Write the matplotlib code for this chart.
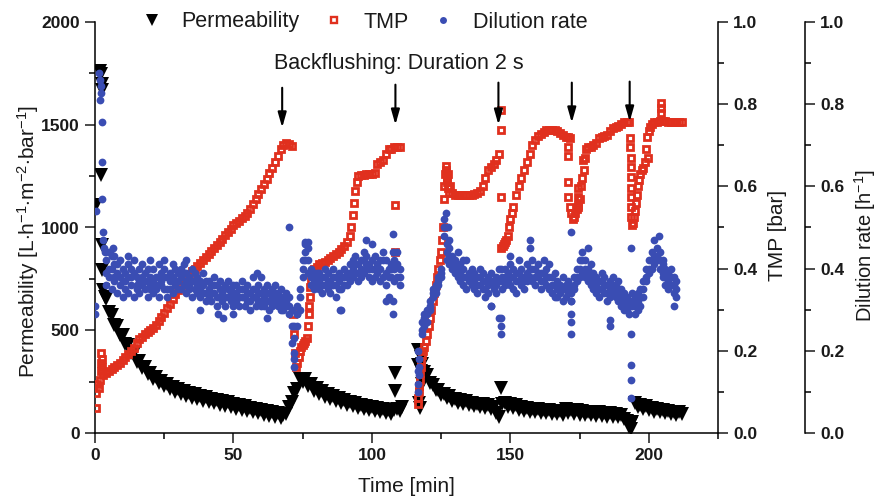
import matplotlib.pyplot as plt
from matplotlib.lines import Line2D

plt.rcParams['font.family'] = ['Liberation Sans', 'DejaVu Sans']
plt.rcParams['mathtext.fontset'] = 'custom'
plt.rcParams['mathtext.rm'] = 'Liberation Sans'
plt.rcParams['mathtext.it'] = 'Liberation Sans:italic'
plt.rcParams['mathtext.bf'] = 'Liberation Sans:bold'

# ---- permeability [L/(h m2 bar)] ----
perm_t1 = [4, 5, 6, 7, 8, 9, 10, 11, 12, 13,
           14, 15, 16, 17, 18, 19, 20, 21, 22, 23,
           24, 25, 26, 27, 28, 29, 30, 31, 32, 33,
           34, 35, 36, 37, 38, 39, 40, 41, 42, 43,
           44, 45, 46, 47, 48, 49, 50, 51, 52, 53,
           54, 55, 56, 57, 58, 59, 60, 61, 62, 63,
           64, 65, 66, 67, 68, 69, 70, 71, 72, 73,
           74, 75, 76, 77, 78, 79, 80, 81, 82, 83,
           84, 85, 86, 87, 88, 89, 90, 91, 92, 93,
           94, 95, 96, 97, 98, 99, 100, 101, 102, 103,
           104, 105, 106, 107, 108, 109, 110, 111]
perm_v1 = [650, 590, 575, 525, 520, 475, 475, 435, 430, 390,
           390, 345, 350, 315, 320, 285, 292, 262, 272, 243,
           255, 227, 238, 212, 226, 200, 215, 190, 205, 180,
           196, 172, 188, 164, 180, 157, 173, 150, 167, 144,
           161, 138, 155, 132, 149, 126, 140, 118, 135, 112,
           130, 107, 124, 101, 118, 96, 113, 90, 107, 84,
           101, 78, 95, 72, 88, 92, 125, 150, 195, 215,
           262, 250, 265, 228, 240, 206, 220, 190, 203, 176,
           190, 165, 180, 155, 170, 145, 160, 137, 152, 130,
           145, 123, 138, 117, 132, 112, 127, 106, 122, 101,
           118, 96, 114, 92, 110, 118, 108, 125]
perm_t2 = [118, 119, 120, 121, 122, 123, 124, 125, 126, 127,
           128, 129, 130, 131, 132, 133, 134, 135, 136, 137,
           138, 139, 140, 141, 142, 143, 144, 145, 146, 147,
           148, 149, 150, 151, 152, 153, 154, 155, 156, 157,
           158, 159, 160, 161, 162, 163, 164, 165, 166, 167,
           168, 169, 170, 171, 172, 173, 174, 175, 176, 177,
           178, 179, 180, 181, 182, 183, 184, 185, 186, 187,
           188, 189, 190, 191, 192, 193, 194, 195, 196, 197,
           198, 199, 200, 201, 202, 203, 204, 205, 206, 207,
           208, 209, 210, 211, 212]
perm_v2 = [335, 295, 280, 245, 235, 208, 210, 186, 192, 170,
           178, 157, 167, 148, 160, 141, 154, 135, 148, 130,
           143, 126, 139, 122, 135, 118, 125, 95, 80, 140,
           148, 128, 140, 121, 134, 114, 128, 108, 123, 104,
           119, 100, 116, 98, 113, 96, 111, 94, 109, 92,
           107, 90, 118, 98, 114, 94, 110, 90, 107, 88,
           104, 86, 102, 84, 100, 82, 98, 80, 96, 78,
           94, 76, 90, 70, 60, 30, 55, 145, 128, 138,
           118, 130, 110, 124, 104, 118, 100, 113, 96, 108,
           92, 104, 90, 100, 92]
perm_xt = [0.4, 1.8, 2.2, 2.6, 2.4, 2.2, 2.4, 2.6, 3.0, 3.5, 108.5, 108.5,
           116.5, 116.7, 117.0, 117.3, 117.6, 117.8, 118.0, 146.8, 193.5, 193.6]
perm_xv = [1110, 1760, 1745, 1700, 1670, 1257, 915, 794, 697, 660, 292, 205,
           404, 331, 146, 120, 370, 300, 240, 219, 20, 45]

# ---- TMP [bar] ----
tmp_t1 = [3, 4, 5, 6, 7, 8, 9, 10, 11, 12,
          13, 14, 15, 16, 17, 18, 19, 20, 21, 22,
          23, 24, 25, 26, 27, 28, 29, 30, 31, 32,
          33, 34, 35, 36, 37, 38, 39, 40, 41, 42,
          43, 44, 45, 46, 47, 48, 49, 50, 51, 52,
          53, 54, 55, 56, 57, 58, 59, 60, 61, 62,
          63, 64, 65, 66, 67, 68, 69, 70, 71]
tmp_v1 = [.140, .145, .150, .155, .160, .165, .170, .178, .185, .192,
          .200, .208, .218, .228, .234, .240, .245, .250, .256, .263,
          .273, .283, .293, .303, .313, .325, .337, .348, .358, .368,
          .378, .386, .393, .400, .407, .414, .421, .428, .435, .442,
          .449, .457, .465, .473, .481, .489, .497, .505, .510, .516,
          .522, .528, .535, .545, .557, .569, .582, .594, .606, .619,
          .632, .645, .660, .675, .690, .700, .706, .704, .698]
tmp_t2 = [71.5, 71.8, 72.1, 72.5, 73.0, 73.5, 74.0, 74.5, 75.0, 75.5,
          76.0, 76.5, 77.0, 77.2, 77.4, 77.6, 77.8, 78.0, 78.5, 79,
          80, 81, 82, 83, 84, 85, 86, 87, 88, 89,
          90, 91, 92, 92.5, 93, 93.5, 94, 94.5, 95, 96,
          97, 98, 99, 100, 101, 102, 103, 104, 105, 106,
          107, 108, 109, 110]
tmp_v2 = [0.29, 0.24, 0.195, 0.16, 0.17, 0.185, 0.20, 0.21, 0.215, 0.22,
          0.225, 0.23, 0.26, 0.29, 0.31, 0.33, 0.355, 0.37, 0.39, 0.40,
          0.405, 0.41, 0.413, 0.417, 0.42, 0.425, 0.43, 0.435, 0.44, 0.447,
          0.455, 0.465, 0.48, 0.50, 0.53, 0.56, 0.59, 0.61, 0.625, 0.628,
          0.628, 0.63, 0.63, 0.63, 0.632, 0.655, 0.66, 0.665, 0.68, 0.69,
          0.692, 0.695, 0.695, 0.696]
tmp_t3 = [116.5, 116.7, 116.9, 117.1, 117.3, 117.5, 117.7, 117.9, 118.2, 118.6,
          119, 119.5, 120, 120.5, 121, 121.5, 122, 122.5, 123, 123.5,
          124, 124.5, 125, 125.4, 125.8, 126.0, 126.2, 126.4, 126.6, 127,
          127.5, 128, 129, 130, 131, 132, 133, 134, 135, 136,
          137, 138, 139, 140, 141, 142, 143, 144, 145, 146]
tmp_v3 = [0.07, 0.085, 0.10, 0.115, 0.13, 0.145, 0.16, 0.175, 0.19, 0.20,
          0.21, 0.225, 0.24, 0.26, 0.28, 0.30, 0.32, 0.34, 0.36, 0.38,
          0.40, 0.42, 0.44, 0.47, 0.50, 0.57, 0.60, 0.63, 0.65, 0.62,
          0.595, 0.585, 0.583, 0.58, 0.58, 0.58, 0.578, 0.578, 0.58, 0.58,
          0.582, 0.585, 0.59, 0.60, 0.62, 0.64, 0.648, 0.655, 0.665, 0.68]
tmp_t4 = [146.8, 147.2, 147.6, 148, 148.5, 149, 149.5, 150, 150.5, 151,
          152, 153, 154, 155, 156, 157, 158, 159, 160, 161,
          162, 163, 164, 165, 166, 167, 168, 169, 170, 171, 171.5]
tmp_v4 = [0.45, 0.455, 0.46, 0.465, 0.47, 0.48, 0.50, 0.52, 0.535, 0.55,
          0.58, 0.60, 0.62, 0.64, 0.66, 0.68, 0.70, 0.713, 0.722, 0.728,
          0.733, 0.737, 0.738, 0.738, 0.737, 0.735, 0.73, 0.725, 0.72, 0.72, 0.718]
tmp_t5 = [172.0, 172.5, 173.0, 173.5, 174.0, 174.5, 175.0, 175.5, 176.0, 176.5,
          177.0, 177.5, 178, 179, 180, 181, 182, 183, 184, 185,
          186, 187, 188, 189, 190, 191, 192, 193]
tmp_v5 = [0.535, 0.52, 0.525, 0.535, 0.545, 0.55, 0.57, 0.60, 0.62, 0.64,
          0.67, 0.69, 0.695, 0.697, 0.70, 0.705, 0.718, 0.72, 0.722, 0.725,
          0.735, 0.742, 0.745, 0.748, 0.752, 0.757, 0.757, 0.757]
tmp_t6 = [194.2, 194.6, 195.0, 195.4, 195.8, 196.2, 196.6, 197.0, 197.5, 198.0,
          198.5, 199.0, 199.5, 200.0, 200.5, 201, 202, 203, 204, 205,
          206, 207, 208, 209, 210, 211, 212]
tmp_v6 = [0.51, 0.525, 0.54, 0.56, 0.58, 0.60, 0.615, 0.63, 0.64, 0.645,
          0.66, 0.69, 0.72, 0.735, 0.745, 0.752, 0.757, 0.757, 0.76, 0.76,
          0.758, 0.757, 0.757, 0.757, 0.757, 0.757, 0.756]
tmp_xt = [0.4, 0.4, 0.6, 1.5, 1.8, 2.0, 2.2, 2.2, 2.4, 2.6, 108.5, 108.5,
          126.8, 127.2, 127.6, 128.2, 146.5, 146.5, 146.5,
          170.8, 170.8, 170.8, 170.8, 171.5, 174.3, 174.3, 174.3, 176.2,
          193.3, 193.3, 193.4, 193.4, 193.5, 193.5, 193.6, 193.6, 193.7, 193.8,
          199.6, 204.3, 204.3, 204.3]
tmp_xv = [0.06, 0.097, 0.12, 0.11, 0.13, 0.15, 0.17, 0.195, 0.18, 0.16, 0.555, 0.44,
          0.64, 0.61, 0.63, 0.60, 0.786, 0.737, 0.574,
          0.696, 0.675, 0.61, 0.575, 0.55, 0.596, 0.574, 0.555, 0.664,
          0.718, 0.696, 0.67, 0.647, 0.623, 0.596, 0.574, 0.55, 0.526, 0.506,
          0.67, 0.803, 0.79, 0.778]

# ---- dilution rate [1/h], three readings per minute ----
dil_t1 = [4, 5, 6, 7, 8, 9, 10,
          11, 12, 13, 14, 15, 16, 17, 18, 19, 20,
          21, 22, 23, 24, 25, 26, 27, 28, 29, 30,
          31, 32, 33, 34, 35, 36, 37, 38, 39, 40,
          41, 42, 43, 44, 45, 46, 47, 48, 49, 50,
          51, 52, 53, 54, 55, 56, 57, 58, 59, 60,
          61, 62, 63, 64, 65, 66, 67, 68, 69, 70,
          71, 72, 73, 74, 75, 76, 77, 78, 79, 80,
          81, 82, 83, 84, 85, 86, 87, 88, 89, 90,
          91, 92, 93, 94, 95, 96, 97, 98, 99, 100,
          101, 102, 103, 104, 105, 106, 107, 108, 109, 110]
dil_a1 = [.42, .44, .40, .41, .39, .42, .40,
          .39, .41, .40, .42, .38, .40, .41, .39, .40, .38,
          .40, .38, .41, .39, .40, .38, .39, .41, .40, .39,
          .40, .41, .39, .38, .40, .39, .38, .37, .39, .37,
          .37, .36, .38, .36, .37, .35, .36, .37, .35, .36,
          .36, .35, .37, .35, .36, .34, .38, .35, .36, .34,
          .35, .36, .34, .35, .36, .34, .35, .33, .34, .33,
          .30, .26, .29, .33, .40, .44, .45, .40, .39, .38,
          .39, .38, .40, .39, .37, .40, .38, .39, .38, .40,
          .39, .41, .42, .43, .41, .42, .44, .43, .41, .42,
          .43, .41, .42, .44, .42, .40, .41, .42, .44, .40]
dil_b1 = [.36, .38, .35, .37, .34, .36, .33,
          .35, .34, .36, .33, .35, .34, .36, .35, .33, .35,
          .34, .35, .33, .36, .35, .33, .35, .34, .36, .35,
          .35, .36, .34, .35, .33, .35, .34, .33, .34, .32,
          .33, .32, .34, .31, .33, .32, .31, .33, .32, .31,
          .32, .31, .33, .31, .32, .30, .33, .31, .32, .31,
          .31, .32, .30, .31, .32, .31, .30, .30, .31, .29,
          .22, .18, .26, .30, .38, .42, .39, .36, .35, .36,
          .35, .34, .36, .35, .34, .36, .33, .35, .30, .36,
          .36, .37, .38, .39, .37, .38, .39, .40, .38, .37,
          .38, .39, .37, .38, .36, .33, .38, .37, .38, .36]
dil_c1 = [.39, .40, .43, .38, .41, .38, .37,
          .37, .38, .38, .39, .36, .37, .38, .37, .37, .36,
          .37, .36, .38, .37, .38, .35, .37, .38, .37, .37,
          .38, .39, .37, .36, .37, .37, .36, .35, .36, .34,
          .35, .34, .36, .33, .35, .34, .33, .35, .34, .33,
          .34, .33, .35, .33, .34, .32, .35, .33, .34, .32,
          .33, .34, .32, .33, .34, .33, .32, .31, .32, .31,
          .26, .23, .31, .35, .42, .46, .42, .38, .37, .39,
          .37, .36, .38, .37, .36, .38, .36, .37, .35, .38,
          .38, .39, .40, .41, .39, .40, .42, .41, .40, .40,
          .40, .40, .40, .42, .39, .38, .40, .40, .41, .38]
dil_t2 = [117, 118, 119, 120, 121, 122, 123, 124, 125, 126,
          127, 128, 129, 130, 131, 132, 133, 134, 135, 136,
          137, 138, 139, 140, 141, 142, 143, 144, 145, 146,
          147, 148, 149, 150, 151, 152, 153, 154, 155, 156,
          157, 158, 159, 160, 161, 162, 163, 164, 165, 166,
          167, 168, 169, 170, 171, 172, 173, 174, 175, 176,
          177, 178, 179, 180, 181, 182, 183, 184, 185, 186,
          187, 188, 189, 190, 191, 192, 193, 194, 195, 196,
          197, 198, 199, 200, 201, 202, 203, 204, 205, 206,
          207, 208, 209, 210]
dil_a2 = [.18, .27, .29, .30, .32, .35, .36, .38, .40, .50,
          .46, .45, .43, .42, .44, .41, .40, .42, .39, .40,
          .39, .38, .40, .39, .37, .38, .39, .37, .38, .40,
          .38, .40, .39, .41, .40, .39, .42, .40, .38, .41,
          .45, .42, .40, .41, .39, .42, .40, .41, .38, .39,
          .37, .36, .38, .36, .37, .35, .38, .40, .42, .44,
          .42, .40, .41, .39, .38, .37, .39, .38, .36, .37,
          .38, .36, .37, .35, .34, .33, .32, .34, .33, .34,
          .35, .37, .40, .42, .44, .43, .45, .44, .41, .40,
          .39, .40, .38, .37]
dil_b2 = [.14, .24, .26, .27, .30, .33, .34, .36, .38, .48,
          .42, .41, .40, .39, .38, .37, .36, .35, .37, .36,
          .35, .34, .36, .35, .33, .34, .31, .35, .34, .28,
          .35, .36, .37, .36, .35, .34, .37, .36, .35, .37,
          .38, .37, .36, .38, .35, .37, .36, .35, .34, .33,
          .33, .34, .32, .33, .34, .32, .35, .37, .38, .39,
          .38, .37, .36, .35, .34, .33, .35, .34, .32, .33,
          .34, .33, .32, .31, .30, .30, .29, .31, .29, .30,
          .31, .33, .37, .39, .40, .41, .42, .40, .38, .36,
          .35, .36, .34, .33]
dil_c2 = [.16, .25, .28, .29, .31, .34, .35, .37, .39, .52,
          .44, .43, .42, .41, .40, .39, .38, .38, .38, .38,
          .37, .36, .38, .37, .35, .36, .37, .36, .36, .37,
          .37, .38, .38, .38, .38, .37, .39, .38, .37, .39,
          .40, .40, .38, .39, .37, .39, .38, .38, .36, .36,
          .35, .35, .35, .35, .36, .34, .36, .38, .40, .42,
          .40, .39, .38, .37, .36, .35, .37, .36, .34, .35,
          .36, .35, .34, .33, .32, .31, .31, .32, .31, .32,
          .33, .35, .38, .40, .42, .42, .43, .42, .39, .38,
          .37, .38, .36, .35]
dil_xt = [0, 0, 0.3, 1.6, 1.9, 2.1, 2.3, 1.8, 2.4, 2.4, 2.6, 2.8, 3.0, 3.3, 3.6,
          5.5, 6.5, 7, 12, 20, 25, 33, 38, 44.5, 46.4, 50, 58.5, 60, 62, 70,
          71.7, 71.7, 73, 76, 77, 88.6, 98, 100, 105, 107.8, 107.8, 107.8, 107.8,
          116.5, 116.5, 116.7, 116.7, 126.6, 126.3, 127.5, 128, 133, 143,
          146.5, 146.5, 146.5, 146.5, 150, 157, 172, 172, 172, 172, 172, 178,
          186, 186, 193.5, 193.5, 193.5, 193.5, 193.5, 203.6, 202, 209, 205]
dil_xv = [0.29, 0.31, 0.54, 0.876, 0.86, 0.845, 0.827, 0.81, 0.757, 0.66, 0.57, 0.49, 0.47, 0.45, 0.44,
          0.44, 0.45, 0.43, 0.43, 0.42, 0.42, 0.42, 0.30, 0.29, 0.28, 0.29, 0.39, 0.38, 0.28, 0.50,
          0.195, 0.16, 0.29, 0.465, 0.465, 0.30, 0.47, 0.46, 0.32, 0.485, 0.44, 0.32, 0.29,
          0.10, 0.12, 0.15, 0.20, 0.535, 0.50, 0.50, 0.47, 0.42, 0.31,
          0.40, 0.28, 0.26, 0.24, 0.43, 0.47, 0.49, 0.32, 0.29, 0.27, 0.24, 0.45,
          0.275, 0.26, 0.45, 0.24, 0.165, 0.13, 0.085, 0.48, 0.47, 0.31, 0.42]

# backflushing arrows (time, start and tip on permeability scale)
flush_t = [67.6, 108.5, 145.7, 172.2, 193.1]
flush_top = [1680, 1695, 1705, 1705, 1710]
flush_tip = [1486, 1500, 1500, 1510, 1515]

x_ticks = [0, 50, 100, 150, 200]
x_tick_labels = ['0', '50', '100', '150', '200']
perm_ticks = [0, 500, 1000, 1500, 2000]
perm_tick_labels = ['0', '500', '1000', '1500', '2000']
frac_ticks = [0.0, 0.2, 0.4, 0.6, 0.8, 1.0]
frac_tick_labels = ['0.0', '0.2', '0.4', '0.6', '0.8', '1.0']

red = '#e0301e'
blue = '#3a4db3'
txt = '#1a1a1a'

fig = plt.figure(figsize=(8.79, 5.0), dpi=100)
ax = fig.add_axes([95 / 879, 67 / 500, 623 / 879, 411 / 500])
ax_tmp = ax.twinx()
ax_dil = ax.twinx()

ax.plot(perm_t1 + perm_t2 + perm_xt, perm_v1 + perm_v2 + perm_xv, 'v',
        color='black', ms=10, mew=0, ls='none')
ax_tmp.plot(tmp_t1 + tmp_t2 + tmp_t3 + tmp_t4 + tmp_t5 + tmp_t6 + tmp_xt,
            tmp_v1 + tmp_v2 + tmp_v3 + tmp_v4 + tmp_v5 + tmp_v6 + tmp_xv, 's',
            mfc='none', mec=red, ms=4.8, mew=2.0, ls='none')
ax_dil.plot(dil_t1 * 3 + dil_t2 * 3 + dil_xt,
            dil_a1 + dil_b1 + dil_c1 + dil_a2 + dil_b2 + dil_c2 + dil_xv, 'o',
            color=blue, ms=5.6, mew=0, ls='none')

ax.set_xlim(0, 225)
ax.set_ylim(0, 2000)
ax_tmp.set_ylim(0, 1.0)
ax_dil.set_ylim(0, 1.0)

ax.spines['top'].set_visible(False)
ax.spines['right'].set_visible(False)
for a in (ax_tmp, ax_dil):
    for s in ('top', 'left', 'bottom'):
        a.spines[s].set_visible(False)
ax_dil.spines['right'].set_position(('axes', 710 / 623))
for a in (ax, ax_tmp, ax_dil):
    for s in a.spines.values():
        s.set_linewidth(1.1)

ax.set_xticks(x_ticks, x_tick_labels, fontweight='bold')
ax.set_xticks(range(25, 226, 50), minor=True)
ax.set_yticks(perm_ticks, perm_tick_labels, fontweight='bold')
ax.set_yticks(range(250, 2000, 500), minor=True)
for a in (ax_tmp, ax_dil):
    a.set_yticks(frac_ticks, frac_tick_labels, fontweight='bold')
    a.set_yticks([0.1, 0.3, 0.5, 0.7, 0.9], minor=True)
for a in (ax, ax_tmp, ax_dil):
    a.tick_params(which='major', direction='out', length=7, width=1.1,
                  labelsize=12.5, pad=4, colors=txt)
    a.tick_params(which='minor', direction='out', length=4, width=1.1)

ax.set_xlabel('Time [min]', fontsize=15, va='center', color=txt)
ax.xaxis.set_label_coords(0.5, -0.131)
ax.set_ylabel(r'Permeability [L$\cdot$h$^{-1}$$\cdot$m$^{-2}$$\cdot$bar$^{-1}$]',
              fontsize=15, va='center', color=txt)
ax.yaxis.set_label_coords(-0.1075, 0.467)
ax_tmp.set_ylabel('TMP [bar]', fontsize=15, va='center', color=txt)
ax_tmp.yaxis.set_label_coords(1.096, 0.48)
ax_dil.set_ylabel(r'Dilution rate [h$^{-1}$]', fontsize=14.5, va='center', color=txt)
ax_dil.yaxis.set_label_coords(1.236, 0.457)

ax_dil.text(64.5, 1796, 'Backflushing: Duration 2 s', transform=ax.transData,
            fontsize=15.5, va='center', ha='left', color=txt)
for t, y0, y1 in zip(flush_t, flush_top, flush_tip):
    ax_dil.annotate('', xy=(t, y1), xytext=(t, y0),
                    xycoords=ax.transData, textcoords=ax.transData,
                    arrowprops=dict(arrowstyle='-|>,head_length=0.6,head_width=0.17',
                                    color='black', lw=1.5, mutation_scale=15,
                                    shrinkA=0, shrinkB=0))

handles = [Line2D([], [], marker='v', ls='none', color='black', ms=8.5, mew=0),
           Line2D([], [], marker='s', ls='none', mfc='none', mec=red, ms=4.8, mew=1.7),
           Line2D([], [], marker='o', ls='none', color=blue, ms=5, mew=0)]
fig.legend(handles, ['Permeability', 'TMP', 'Dilution rate'],
           loc='center left', bbox_to_anchor=(141 / 879, 1 - 22 / 500),
           ncol=3, frameon=False, fontsize=15.5, handlelength=1.0,
           handletextpad=0.88, columnspacing=1.1, borderpad=0,
           borderaxespad=0, labelcolor=txt)

fig.savefig('out.png', dpi=100)
